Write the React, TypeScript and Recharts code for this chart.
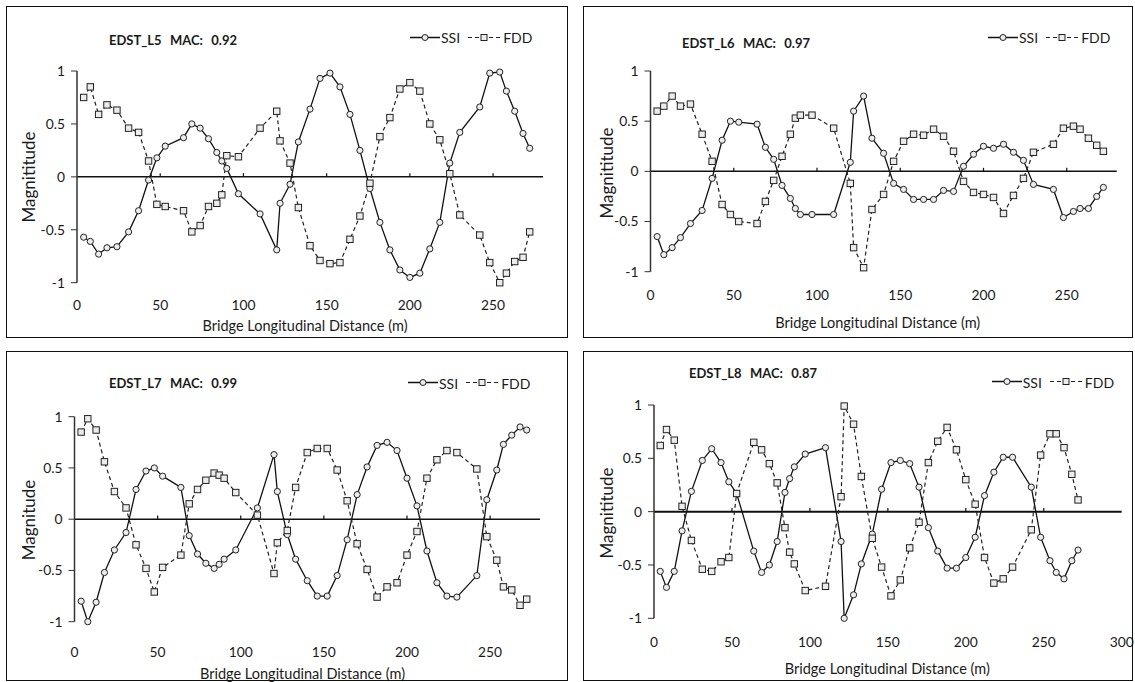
import { LineChart, Line, XAxis, YAxis, ReferenceLine } from "recharts"

// sensor positions along the bridge (m), shared by all four modes
const X = [
  4, 8, 13, 18, 24, 31, 37, 43, 48, 53, 64, 69, 74, 79, 84, 87, 90, 97, 110, 120,
  122, 128, 133, 140, 146, 152, 158, 164, 170, 176, 182, 188, 194, 200, 206, 212, 218, 224, 230, 242,
  248, 254, 258, 263, 268, 272,
]

const L5_SSI = [
  -0.57, -0.61, -0.73, -0.67, -0.66, -0.52, -0.32, -0.03, 0.18, 0.29,
  0.37, 0.5, 0.46, 0.36, 0.23, 0.15, 0.08, -0.16, -0.35, -0.69,
  -0.25, -0.07, 0.33, 0.64, 0.93, 0.98, 0.85, 0.59, 0.25, -0.11,
  -0.43, -0.69, -0.88, -0.95, -0.91, -0.68, -0.43, 0.13, 0.42, 0.66,
  0.98, 0.99, 0.81, 0.62, 0.41, 0.27,
]
const L5_FDD = [
  0.75, 0.85, 0.59, 0.68, 0.63, 0.46, 0.42, 0.15, -0.26, -0.28,
  -0.32, -0.52, -0.46, -0.28, -0.25, -0.17, 0.2, 0.19, 0.46, 0.62,
  0.34, 0.13, -0.29, -0.65, -0.79, -0.82, -0.81, -0.59, -0.37, -0.06,
  0.38, 0.56, 0.83, 0.89, 0.81, 0.5, 0.35, 0.03, -0.36, -0.55,
  -0.81, -1.0, -0.91, -0.8, -0.76, -0.52,
]

const L6_SSI = [
  -0.65, -0.83, -0.76, -0.66, -0.52, -0.39, -0.07, 0.31, 0.5, 0.49,
  0.47, 0.24, 0.12, -0.14, -0.27, -0.37, -0.43, -0.43, -0.43, 0.09,
  0.6, 0.75, 0.33, 0.18, -0.12, -0.18, -0.28, -0.28, -0.28, -0.19,
  -0.2, 0.05, 0.17, 0.25, 0.23, 0.27, 0.19, 0.11, -0.13, -0.18,
  -0.46, -0.4, -0.37, -0.37, -0.25, -0.16,
]
const L6_FDD = [
  0.6, 0.65, 0.75, 0.65, 0.67, 0.37, 0.1, -0.33, -0.43, -0.5,
  -0.52, -0.3, -0.09, 0.15, 0.37, 0.53, 0.56, 0.56, 0.43, -0.12,
  -0.76, -0.96, -0.38, -0.23, 0.1, 0.3, 0.37, 0.36, 0.42, 0.35,
  0.2, -0.1, -0.21, -0.23, -0.26, -0.42, -0.24, -0.07, 0.19, 0.27,
  0.43, 0.45, 0.42, 0.33, 0.26, 0.2,
]

const L7_SSI = [
  -0.8, -1.0, -0.81, -0.52, -0.3, -0.13, 0.29, 0.47, 0.5, 0.42,
  0.31, -0.16, -0.34, -0.43, -0.48, -0.44, -0.39, -0.3, 0.11, 0.63,
  0.27, -0.15, -0.39, -0.6, -0.75, -0.75, -0.55, -0.2, 0.24, 0.51,
  0.72, 0.75, 0.67, 0.4, 0.13, -0.31, -0.62, -0.75, -0.76, -0.55,
  0.19, 0.48, 0.73, 0.82, 0.9, 0.87,
]
const L7_FDD = [
  0.85, 0.98, 0.87, 0.56, 0.27, 0.11, -0.25, -0.48, -0.71, -0.47,
  -0.35, 0.15, 0.29, 0.38, 0.45, 0.43, 0.4, 0.26, 0.04, -0.53,
  -0.23, -0.11, 0.31, 0.65, 0.69, 0.69, 0.48, 0.18, -0.24, -0.49,
  -0.76, -0.66, -0.62, -0.35, -0.12, 0.4, 0.58, 0.67, 0.65, 0.49,
  -0.17, -0.4, -0.66, -0.69, -0.84, -0.78,
]

const L8_SSI = [
  -0.56, -0.71, -0.56, -0.18, 0.19, 0.48, 0.59, 0.46, 0.28, 0.17,
  -0.37, -0.57, -0.5, -0.28, 0.18, 0.31, 0.42, 0.54, 0.6, -0.28,
  -1.0, -0.78, -0.49, -0.21, 0.21, 0.46, 0.48, 0.45, 0.23, -0.15,
  -0.37, -0.53, -0.53, -0.43, -0.24, 0.15, 0.37, 0.51, 0.51, 0.23,
  -0.24, -0.46, -0.57, -0.63, -0.46, -0.36,
]
const L8_FDD = [
  0.62, 0.77, 0.67, 0.05, -0.27, -0.54, -0.56, -0.47, -0.43, 0.17,
  0.65, 0.58, 0.45, 0.27, -0.15, -0.38, -0.49, -0.74, -0.7, 0.14,
  0.99, 0.82, 0.33, -0.25, -0.52, -0.79, -0.64, -0.34, -0.1, 0.46,
  0.66, 0.79, 0.58, 0.3, 0.07, -0.43, -0.67, -0.63, -0.52, -0.17,
  0.53, 0.73, 0.73, 0.6, 0.35, 0.11,
]

const X_TICKS_280 = [0, 50, 100, 150, 200, 250]
const X_TICKS_300 = [0, 50, 100, 150, 200, 250, 300]
const ZERO_TICKS = [50, 100, 150, 200, 250]
const Y_TICKS = [-1, -0.5, 0, 0.5, 1]

const FONT = 'Lato, "Open Sans", sans-serif'
const INK = "#1a1a1a"
const TICK_FS = 13.8

const panels = [
  {
    key: "L5", title: "EDST_L5  MAC:  0.92", yLabel: "Magnititude", ssi: L5_SSI, fdd: L5_FDD,
    left: 6, top: 6, width: 562, height: 332, xMax: 280, xTicks: X_TICKS_280,
    plot: { left: 71, right: 537, top: 65, bottom: 276.7 }, xTickMargin: 10,
    titleAt: [167, 34], legendAt: [404, 31], yLabelAt: [22, 171], xLabelAt: [299, 319],
  },
  {
    key: "L6", title: "EDST_L6  MAC:  0.97", yLabel: "Magnititude", ssi: L6_SSI, fdd: L6_FDD,
    left: 583, top: 6, width: 550, height: 332, xMax: 280, xTicks: X_TICKS_280,
    plot: { left: 67.5, right: 533.7, top: 65, bottom: 265.7 }, xTickMargin: 11,
    titleAt: [163, 36.7], legendAt: [405, 31.3], yLabelAt: [23, 167], xLabelAt: [294.7, 315.7],
  },
  {
    key: "L7", title: "EDST_L7  MAC:  0.99", yLabel: "Magnitude", ssi: L7_SSI, fdd: L7_FDD,
    left: 6, top: 351, width: 562, height: 330, xMax: 280, xTicks: X_TICKS_280,
    plot: { left: 68.5, right: 534, top: 65.7, bottom: 270.7 }, xTickMargin: 18,
    titleAt: [167, 32.3], legendAt: [402, 31.7], yLabelAt: [22, 169], xLabelAt: [296.5, 322],
  },
  {
    key: "L8", title: "EDST_L8  MAC:  0.87", yLabel: "Magnititude", ssi: L8_SSI, fdd: L8_FDD,
    left: 583, top: 351, width: 550, height: 330, xMax: 300, xTicks: X_TICKS_300,
    plot: { left: 71, right: 538.7, top: 54, bottom: 267.3 }, xTickMargin: 11,
    titleAt: [170, 22.3], legendAt: [408.7, 30.7], yLabelAt: [23, 162], xLabelAt: [304.3, 317],
  },
]

const Y_AXIS_W = 50
const X_AXIS_H = 30

function Square(p: any) {
  if (p.cx == null || p.cy == null) return null
  return (
    <rect
      key={`sq-${p.index}`}
      x={p.cx - 3.2}
      y={p.cy - 3.2}
      width={6.4}
      height={6.4}
      fill="#ececec"
      stroke="#222"
      strokeWidth={1}
      strokeDasharray="none"
    />
  )
}

function Legend() {
  return (
    <div style={{ display: "flex", alignItems: "center", fontFamily: FONT, fontSize: 14, color: INK }}>
      <svg width={30} height={10}>
        <line x1={0} y1={5} x2={30} y2={5} stroke="#111" strokeWidth={1.3} />
        <circle cx={15} cy={5} r={3} fill="#ececec" stroke="#222" strokeWidth={1} />
      </svg>
      <span style={{ marginLeft: 1 }}>SSI</span>
      <svg width={32} height={10} style={{ marginLeft: 8 }}>
        <line x1={0} y1={5} x2={32} y2={5} stroke="#222" strokeWidth={1.2} strokeDasharray="4 3" />
        <rect x={13} y={2} width={6} height={6} fill="#ececec" stroke="#222" strokeWidth={1} />
      </svg>
      <span style={{ marginLeft: 3 }}>FDD</span>
    </div>
  )
}

function Panel({ cfg }: { cfg: (typeof panels)[number] }) {
  const data = X.map((x, i) => ({ x, ssi: cfg.ssi[i], fdd: cfg.fdd[i] }))
  const margin = {
    top: cfg.plot.top,
    left: cfg.plot.left - Y_AXIS_W,
    right: cfg.width - cfg.plot.right,
    bottom: cfg.height - cfg.plot.bottom - X_AXIS_H,
  }
  return (
    <div style={{ position: "absolute", left: cfg.left, top: cfg.top, width: cfg.width, height: cfg.height }}>
      <LineChart width={cfg.width} height={cfg.height} data={data} margin={margin}>
        <XAxis
          type="number"
          dataKey="x"
          domain={[0, cfg.xMax]}
          ticks={cfg.xTicks}
          interval={0}
          allowDataOverflow
          axisLine={false}
          tickLine={false}
          tickSize={8}
          tickMargin={cfg.xTickMargin}
          height={X_AXIS_H}
          tick={{ fontSize: TICK_FS, fill: INK, fontFamily: FONT }}
        />
        <YAxis
          type="number"
          domain={[-1, 1]}
          ticks={Y_TICKS}
          interval={0}
          width={Y_AXIS_W}
          axisLine={{ stroke: "#333", strokeWidth: 1.5 }}
          tickLine={{ stroke: "#333" }}
          tickSize={6}
          tickMargin={6}
          tick={{ fontSize: TICK_FS, fill: INK, fontFamily: FONT }}
        />
        <ReferenceLine y={0} stroke="#111" strokeWidth={cfg.key === "L8" ? 2 : 1.5} />
        {ZERO_TICKS.map((t) => (
          <ReferenceLine
            key={t}
            segment={[{ x: t, y: 0 }, { x: t, y: 0.035 }]}
            stroke="#111"
            strokeWidth={1.2}
          />
        ))}
        <Line
          type="linear"
          dataKey="ssi"
          stroke="#111"
          strokeWidth={1.3}
          dot={{ r: 3.1, stroke: "#222", strokeWidth: 1, fill: "#ececec" }}
          isAnimationActive={false}
        />
        <Line
          type="linear"
          dataKey="fdd"
          stroke="#222"
          strokeWidth={1.2}
          strokeDasharray="4 3"
          dot={Square}
          isAnimationActive={false}
        />
      </LineChart>

      <div
        style={{
          position: "absolute", left: cfg.titleAt[0], top: cfg.titleAt[1],
          transform: "translate(-50%, -50%)", whiteSpace: "pre", wordSpacing: 1,
          fontFamily: FONT, fontWeight: 700, fontSize: 13, color: INK,
        }}
      >
        {cfg.title}
      </div>
      <div style={{ position: "absolute", left: cfg.legendAt[0], top: cfg.legendAt[1], transform: "translateY(-50%)" }}>
        <Legend />
      </div>
      <div
        style={{
          position: "absolute", left: cfg.yLabelAt[0], top: cfg.yLabelAt[1],
          transform: "translate(-50%, -50%) rotate(-90deg)", whiteSpace: "nowrap",
          fontFamily: FONT, fontSize: 17, color: INK,
        }}
      >
        {cfg.yLabel}
      </div>
      <div
        style={{
          position: "absolute", left: cfg.xLabelAt[0], top: cfg.xLabelAt[1],
          transform: "translate(-50%, -50%)", whiteSpace: "nowrap",
          fontFamily: FONT, fontSize: 14.5, color: INK,
        }}
      >
        Bridge Longitudinal Distance (m)
      </div>
      <div
        style={{
          position: "absolute", inset: 0, border: "1.5px solid #111",
          boxSizing: "border-box", pointerEvents: "none",
        }}
      />
    </div>
  )
}

export default function App() {
  return (
    <div style={{ position: "absolute", left: 0, top: 0, width: 1135, height: 682, background: "#fff" }}>
      <style>{`.recharts-surface{overflow:visible}`}</style>
      {panels.map((p) => (
        <Panel key={p.key} cfg={p} />
      ))}
    </div>
  )
}
